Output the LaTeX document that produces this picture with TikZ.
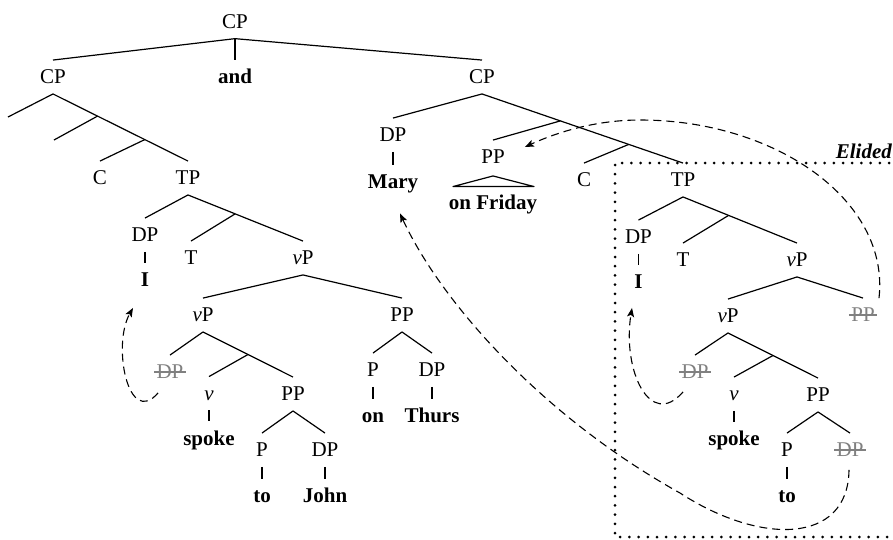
\documentclass[tikz,border=0pt]{standalone}
\usepackage{fontspec}
\setmainfont{Liberation Serif}
\usetikzlibrary{calc,arrows.meta}
\begin{document}
\begin{tikzpicture}[x=1pt,y=-1pt,
  tn/.style={font=\fontsize{21}{25}\selectfont, text height=13.5pt, text depth=0pt, inner ysep=10pt, inner xsep=1pt},
  wd/.style={tn, font=\fontsize{21}{25}\selectfont\bfseries},
  struck/.style={tn, text=gray, inner xsep=2.5pt, path picture={\draw[gray,line width=1.1pt] (path picture bounding box.west) -- (path picture bounding box.east);}},
  br/.style={line width=1.2pt, line join=round},
  move/.style={line width=1.1pt, dash pattern=on 8pt off 5pt, -{Stealth[length=9pt,width=7pt,inset=2pt]}},
  elbox/.style={line width=3pt, line cap=round, dash pattern=on 0pt off 9.2pt},
  ellabel/.style={font=\fontsize{21}{25}\selectfont\bfseries\itshape, inner sep=0pt, anchor=base east}
]
\useasboundingbox (0,0) rectangle (893,539);

% ---------- top level ----------
\node[tn] (cp0) at (235,21.7) {CP};
\node[tn] (cpL) at (53,77) {CP};
\node[wd] (and) at (235,76.6) {and};
\node[tn] (cpR) at (482,77) {CP};

% ---------- left conjunct ----------
\coordinate (e1) at (8,117);
\coordinate (e2) at (54,140);
\node[tn] (c1) at (100,178) {C};
\node[tn] (tp1) at (188,178) {TP};
\node[tn] (dp1) at (145,235) {DP};
\node[tn] (t1) at (191,258) {T};
\node[tn] (vp1) at (303,258) {\textit{v}P};
\node[wd] (i1) at (145,280) {I};
\node[tn] (vp2) at (203,315) {\textit{v}P};
\node[tn] (pp1) at (402,315) {PP};
\node[struck] (dpt1) at (170,372) {DP};
\node[tn] (v1) at (209,393.5) {\textit{v}};
\node[tn] (pp2) at (293,394) {PP};
\node[wd] (spoke1) at (209,438.3) {spoke};
\node[tn] (p1) at (262,450) {P};
\node[tn] (dp2) at (325,450) {DP};
\node[wd] (to1) at (262,496) {to};
\node[wd] (john) at (325,496) {John};
\node[tn] (p2) at (373,370) {P};
\node[tn] (dp3) at (432,370) {DP};
\node[wd] (on) at (373,416) {on};
\node[wd] (thurs) at (432,416) {Thurs};

% ---------- right conjunct ----------
\node[tn] (dpM) at (393,135) {DP};
\node[wd] (mary) at (393,181.5) {Mary};
\node[tn] (pp3) at (493,157) {PP};
\node[wd] (onfri) at (493,202.5) {on Friday};
\node[tn] (c2) at (584,180) {C};
\node[tn] (tp2) at (683,180) {TP};
\node[tn] (dp4) at (638.5,237) {DP};
\node[tn] (t2) at (683,260) {T};
\node[tn] (vp3) at (797,260) {\textit{v}P};
\node[wd] (i2) at (638.5,282) {I};
\node[tn] (vp4) at (728,316) {\textit{v}P};
\node[struck] (ppt) at (863,315) {PP};
\node[struck] (dpt2) at (695,372) {DP};
\node[tn] (v2) at (734,394) {\textit{v}};
\node[tn] (pp4) at (818,395) {PP};
\node[wd] (spoke2) at (734,439) {spoke};
\node[tn] (p3) at (787,450) {P};
\node[struck] (dpt3) at (850,450) {DP};
\node[wd] (to2) at (787,496) {to};

% joints
\coordinate (j1) at ($(cpL.south)!0.33!(tp1.north)$);
\coordinate (j2) at ($(cpL.south)!0.68!(tp1.north)$);
\coordinate (j3) at ($(tp1.south)!0.41!(vp1.north)$);
\coordinate (j4) at ($(vp2.south)!0.5!(pp2.north)$);
\coordinate (j5) at ($(cpR.south)!0.39!(tp2.north)$);
\coordinate (j6) at ($(cpR.south)!0.73!(tp2.north)$);
\coordinate (j7) at ($(tp2.south)!0.40!(vp3.north)$);
\coordinate (j8) at ($(vp4.south)!0.5!(pp4.north)$);

% ---------- branches ----------
\draw[br] (cp0.south) -- (cpL.north);
\draw[br] (cp0.south) -- (and.north);
\draw[br] (cp0.south) -- (cpR.north);

\draw[br] (cpL.south) -- (e1);
\draw[br] (cpL.south) -- (tp1.north);
\draw[br] (j1) -- (e2);
\draw[br] (j2) -- (c1.north);
\draw[br] (tp1.south) -- (dp1.north);
\draw[br] (tp1.south) -- (vp1.north);
\draw[br] (j3) -- (t1.north);
\draw[br] (dp1.south) -- (i1.north);
\draw[br] (vp1.south) -- (vp2.north);
\draw[br] (vp1.south) -- (pp1.north);
\draw[br] (vp2.south) -- (dpt1.north);
\draw[br] (vp2.south) -- (pp2.north);
\draw[br] (j4) -- (v1.north);
\draw[br] (v1.south) -- (spoke1.north);
\draw[br] (pp2.south) -- (p1.north);
\draw[br] (pp2.south) -- (dp2.north);
\draw[br] (p1.south) -- (to1.north);
\draw[br] (dp2.south) -- (john.north);
\draw[br] (pp1.south) -- (p2.north);
\draw[br] (pp1.south) -- (dp3.north);
\draw[br] (p2.south) -- (on.north);
\draw[br] (dp3.south) -- (thurs.north);

\draw[br] (cpR.south) -- (dpM.north);
\draw[br] (cpR.south) -- (tp2.north);
\draw[br] (dpM.south) -- (mary.north);
\draw[br] (j5) -- (pp3.north);
\draw[br] (j6) -- (c2.north);
\draw[br] ($(pp3.south)+(0,2)$) -- ($(onfri.north)+(-40,1)$) -- ($(onfri.north)+(41,1)$) -- cycle;
\draw[br] (tp2.south) -- (dp4.north);
\draw[br] (tp2.south) -- (vp3.north);
\draw[br] (j7) -- (t2.north);
\draw[br] (dp4.south) -- (i2.north);
\draw[br] (vp3.south) -- (vp4.north);
\draw[br] (vp3.south) -- (ppt.north);
\draw[br] (vp4.south) -- (dpt2.north);
\draw[br] (vp4.south) -- (pp4.north);
\draw[br] (j8) -- (v2.north);
\draw[br] (v2.south) -- (spoke2.north);
\draw[br] (pp4.south) -- (p3.north);
\draw[br] (pp4.south) -- (dpt3.north);
\draw[br] (p3.south) -- (to2.north);

% ---------- elided box ----------
\draw[elbox] (935,163) -- (615,163) -- (615,537) -- (935,537);
\node[ellabel] (elided) at (892,158) {Elided};

% ---------- movement arrows ----------
\draw[move] ($(dpt1.south)+(-12,4)$) .. controls (128,428) and (112,345) .. ($(i1.south)+(-12,11)$);
\draw[move] ($(dpt2.south)+(-12,3)$) .. controls (650,430) and (622,370) .. ($(i2.south)+(-6.5,9)$);
\draw[move] ($(dpt3.south)+(-1,3)$) .. controls (848,545) and (760,545) .. (680,493)
   .. controls (540,415) and (440,300) .. ($(mary.south)+(7,15)$);
\draw[move] ($(ppt.north)+(16,0)$) .. controls (890,200) and (775,120) .. (640,120)
   .. controls (600,120) and (562,130) .. ($(pp3.east)+(19,-10)$);
\end{tikzpicture}
\end{document}
